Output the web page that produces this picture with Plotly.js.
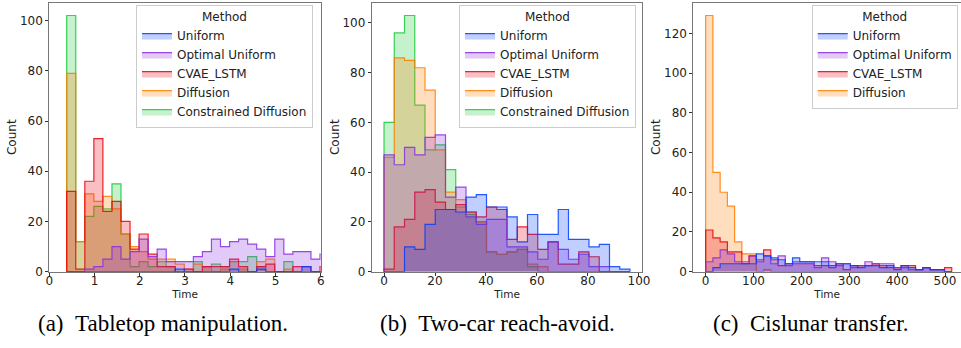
<!DOCTYPE html>
<html><head><meta charset="utf-8">
<script src="https://cdn.plot.ly/plotly-3.0.1.min.js"></script>
<style>html,body{margin:0;padding:0;background:#fff}#chart{width:961px;height:348px}</style>
</head><body><div id="chart"></div>
<script>
// ---------- data ----------
const methods = ["Uniform", "Optimal Uniform", "CVAE_LSTM", "Diffusion", "Constrained Diffusion"];
const colors = ["#023eff", "#8b2be2", "#e8000b", "#ff7c00", "#1ac938"];

// (a) Tabletop manipulation: bins of width 0.2 starting at 0.385
const binStartA = 0.385, binWidthA = 0.2;
const uniformA = [0,0,0,0,0,0,0,0,0,0,0,0,1,0,0,0,0,0,1,0,0,1,0,0,0,0,2,0,0];
const optimalA = [0,0,1,2,5,10,5,8,13,6,9,4,4,4,6,8,13,10,12,13,11,9,6,13,7,8,8,5,7];
const cvaeA    = [32,1,36,53,24,28,20,9,15,7,2,2,0,1,0,2,2,2,5,2,0,2,3,0,0,2,2,0,2];
const diffA    = [79,12,31,28,30,25,15,10,8,5,5,5,3,1,3,2,0,1,0,1,0,4,5,0,1,0,0,0,0];
const constA   = [102,12,22,26,25,35,15,2,4,2,4,2,0,0,4,2,3,2,4,4,6,2,0,0,4,0,0,0,0];

// (b) Two-car reach-avoid: 24 bins of width 4.02 starting at 0
const binStartB = 0, binWidthB = 4.02;
const uniformB = [0,0,10,9,19,25,25,24,30,31,26,26,22,12,23,15,15,25,13,13,10,11,2,1];
const optimalB = [47,43,50,47,54,55,30,34,22,19,21,21,10,10,8,5,12,9,5,7,2,2,0,0];
const cvaeB    = [1,18,21,32,33,28,25,27,24,22,26,25,13,18,15,9,12,3,3,8,6,0,0,0];
const diffB    = [46,86,85,82,73,49,32,29,24,20,8,7,8,9,3,2,0,0,0,0,0,0,0,0];
const constB   = [60,96,103,67,49,51,41,26,23,20,8,7,8,9,2,0,0,0,0,0,0,0,0,0];

// (c) Cislunar transfer: 34 bins of width 15.12 starting at 0
const binStartC = 0, binWidthC = 15.12;
const uniformC = [0,2,4,4,4,4,4,9,8,7,6,4,7,5,5,5,5,3,4,4,3,2,3,3,2,3,1,3,2,1,2,1,1,0];
const optimalC = [5,7,11,9,5,5,8,5,8,4,8,3,5,5,5,2,7,5,3,4,2,3,5,4,4,4,2,2,1,1,2,1,1,0];
const cvaeC    = [21,17,15,10,10,4,8,6,11,6,3,4,4,4,4,3,3,2,4,1,3,3,3,4,3,2,2,3,3,1,2,1,1,2];
const diffC    = [129,50,40,33,15,9,9,0,1,0,0,0,0,0,0,0,0,0,0,0,0,0,0,0,0,0,0,0,0,0,0,0,0,0];

const xTicksA = [0,1,2,3,4,5,6];
const xTicksB = [0,20,40,60,80,100];
const xTicksC = [0,100,200,300,400,500];
const yTicksAB = [0,20,40,60,80,100];
const yTicksC = [0,20,40,60,80,100,120];
const captions = ["(a)\u2002Tabletop manipulation.", "(b)\u2002Two-car reach-avoid.", "(c)\u2002Cislunar transfer."];

// ---------- helpers ----------
function rgba(hex, a) {
  const n = parseInt(hex.slice(1), 16);
  return `rgba(${(n>>16)&255},${(n>>8)&255},${n&255},${a})`;
}
function stepTrace(counts, start, width, idx, xa, ya, legend) {
  const n = counts.length;
  const xs = [start], ys = [0];
  for (let i = 0; i < n; i++) { xs.push(start + i * width); ys.push(counts[i]); }
  xs.push(start + n * width); ys.push(counts[n - 1]);
  xs.push(start + n * width); ys.push(0);
  return {
    type: 'scatter', mode: 'lines', x: xs, y: ys,
    line: {shape: 'hv', color: rgba(colors[idx], 0.85), width: 1.2},
    fill: 'tozeroy', fillcolor: rgba(colors[idx], 0.25),
    name: methods[idx], legend: legend, legendrank: idx + 1,
    xaxis: xa, yaxis: ya, hoverinfo: 'skip'
  };
}

const traces = [];
// drawn in reverse order so the first method sits on top (as seaborn does)
[[constA,4],[diffA,3],[cvaeA,2],[optimalA,1],[uniformA,0]].forEach(([c,i]) =>
  traces.push(stepTrace(c, binStartA, binWidthA, i, 'x', 'y', 'legend')));
[[constB,4],[diffB,3],[cvaeB,2],[optimalB,1],[uniformB,0]].forEach(([c,i]) =>
  traces.push(stepTrace(c, binStartB, binWidthB, i, 'x2', 'y2', 'legend2')));
[[diffC,3],[cvaeC,2],[optimalC,1],[uniformC,0]].forEach(([c,i]) =>
  traces.push(stepTrace(c, binStartC, binWidthC, i, 'x3', 'y3', 'legend3')));

const FONT = 'DejaVu Sans';
function axBase(extra) {
  return Object.assign({
    showline: true, mirror: true, linecolor: '#777', linewidth: 1,
    ticks: 'outside', ticklen: 3, tickwidth: 1, tickcolor: '#333',
    showgrid: false, zeroline: false, automargin: false,
    tickfont: {family: FONT, size: 12, color: '#222'}
  }, extra);
}
const yDom = [0.2193, 0.9922];
function xAx(dom, range, ticks, anchor) {
  return axBase({domain: dom, range: range, tickmode: 'array', tickvals: ticks, anchor: anchor,
    ticklabelstandoff: -5,
    title: {text: 'Time', font: {family: FONT, size: 10.5, color: '#222'}, standoff: 0}});
}
function yAx(range, ticks, anchor) {
  return axBase({domain: yDom, range: range, tickmode: 'array', tickvals: ticks, anchor: anchor,
    title: {text: 'Count', font: {family: FONT, size: 12, color: '#222'}, standoff: 0}});
}
function leg(xr) {
  return {
    x: xr, y: 0.987, xanchor: 'right', yanchor: 'top',
    bgcolor: 'rgba(255,255,255,0.8)', bordercolor: '#ccc', borderwidth: 1,
    font: {family: FONT, size: 12, color: '#222'},
    title: {text: 'Method', side: 'top center', font: {family: FONT, size: 12, color: '#222'}},
    traceorder: 'normal'
  };
}

const layout = {
  width: 961, height: 348,
  margin: {l: 0, r: 0, t: 0, b: 0},
  paper_bgcolor: '#fff', plot_bgcolor: '#fff',
  showlegend: true,
  xaxis:  xAx([0.0513, 0.3337], [0, 6], xTicksA, 'y'),
  xaxis2: xAx([0.3868, 0.6684], [-4.825, 101.325], xTicksB, 'y2'),
  xaxis3: xAx([0.7215, 1.0], [-25.7, 533.4], xTicksC, 'y3'),
  yaxis:  yAx([0, 107.1], yTicksAB, 'x'),
  yaxis2: yAx([0, 108.15], yTicksAB, 'x2'),
  yaxis3: yAx([0, 135.45], yTicksC, 'x3'),
  legend: leg(0.3257),
  legend2: leg(0.6618),
  legend3: leg(0.9966),
  annotations: captions.map((t, k) => ({
    text: t, xref: 'paper', yref: 'paper', x: [0.1696, 0.5172, 0.8439][k], y: 0.0718,
    xanchor: 'center', yanchor: 'middle', showarrow: false,
    font: {family: 'Liberation Serif', size: 23, color: '#000'}
  }))
};

Plotly.newPlot('chart', traces, layout, {displayModeBar: false, staticPlot: true});
</script>
</body></html>
